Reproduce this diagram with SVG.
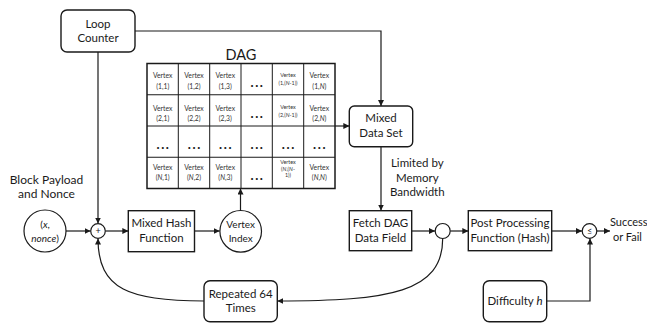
<svg xmlns="http://www.w3.org/2000/svg" width="647" height="323" viewBox="0 0 647 323">
<defs>
<marker id="ah" viewBox="0 0 10 10" refX="10" refY="5" markerWidth="6" markerHeight="6" markerUnits="userSpaceOnUse" orient="auto">
<path d="M0,0 L10,5 L0,10 Z" fill="#1a1a1a"/>
</marker>
<style>
text{font-family:Lato,"Liberation Sans",sans-serif;fill:#1a1a1a;text-anchor:middle}
.box{fill:#fff;stroke:#1a1a1a;stroke-width:1.4}
.c{fill:#fff;stroke:#1a1a1a;stroke-width:1.2}
.ln{fill:none;stroke:#1a1a1a;stroke-width:1.2;marker-end:url(#ah)}
.t{font-size:11.5px}
.s{font-size:10px}
.v{font-size:6.8px;fill:#333}
.vs{font-size:5.4px;fill:#333}
.d{font-size:13px;font-weight:bold;letter-spacing:1.6px}
.grid{fill:none;stroke:#1a1a1a;stroke-width:1}
</style>
</defs>
<rect width="647" height="323" fill="#fff"/>

<g id="connectors">
<path class="ln" d="M135,31 H381 V106"/>
<path class="ln" d="M98,52 V223.5"/>
<path class="ln" d="M66,231 H90.5"/>
<path class="ln" d="M105.5,231 H128.3"/>
<path class="ln" d="M194.5,231 H219.7"/>
<path class="ln" d="M240.5,210.3 V188.5"/>
<path class="ln" d="M335,126 H349.3"/>
<path class="ln" d="M381,146.7 V210.5"/>
<path class="ln" d="M411.7,231 H435"/>
<path class="ln" d="M450.3,231 H468.3"/>
<path class="ln" d="M551.7,231 H582"/>
<path class="ln" d="M596.7,231 H610"/>
<path class="ln" d="M546.7,301 H590 V238.5"/>
<path class="ln" d="M442.7,238.5 C442.7,292 390,301 277.3,301"/>
<path class="ln" d="M204,301 C130,301 98,290 98,238.5"/>
</g>

<g id="loop-counter">
<rect class="box" x="61" y="10" width="74" height="42" rx="6"/>
<text class="t" x="98" y="27.7">Loop</text>
<text class="t" x="98" y="41.7">Counter</text>
</g>

<g id="dag">
<text x="241" y="59.5" style="font-size:14.5px">DAG</text>
<rect x="147" y="63.5" width="188" height="125" fill="#fff"/>
<g class="grid">
<path d="M178.3,63.5 V188.5 M209.7,63.5 V188.5 M241,63.5 V188.5 M272.3,63.5 V188.5 M303.7,63.5 V188.5"/>
<path d="M147,94.75 H335 M147,126 H335 M147,157.25 H335"/>
</g>
<rect x="147" y="63.5" width="188" height="125" fill="none" stroke="#1a1a1a" stroke-width="1.5"/>
<g>
<text class="v" x="162.7" y="78">Vertex</text><text class="v" x="162.7" y="88.5">(1,1)</text>
<text class="v" x="194" y="78">Vertex</text><text class="v" x="194" y="88.5">(1,2)</text>
<text class="v" x="225.3" y="78">Vertex</text><text class="v" x="225.3" y="88.5">(1,3)</text>
<text class="d" x="257.5" y="87">...</text>
<text class="vs" x="288" y="76.7">Vertex</text><text class="vs" x="288" y="85">(1,(<tspan font-style="italic">N</tspan>-1))</text>
<text class="v" x="319.3" y="78">Vertex</text><text class="v" x="319.3" y="88.5">(1,<tspan font-style="italic">N</tspan>)</text>

<text class="v" x="162.7" y="110.5">Vertex</text><text class="v" x="162.7" y="121">(2,1)</text>
<text class="v" x="194" y="110.5">Vertex</text><text class="v" x="194" y="121">(2,2)</text>
<text class="v" x="225.3" y="110.5">Vertex</text><text class="v" x="225.3" y="121">(2,3)</text>
<text class="d" x="257.5" y="118">...</text>
<text class="vs" x="288" y="108.5">Vertex</text><text class="vs" x="288" y="116.8">(2,(<tspan font-style="italic">N</tspan>-1))</text>
<text class="v" x="319.3" y="110.5">Vertex</text><text class="v" x="319.3" y="121">(2,<tspan font-style="italic">N</tspan>)</text>

<text class="d" x="163.5" y="148.5">...</text>
<text class="d" x="194.8" y="148.5">...</text>
<text class="d" x="226.1" y="148.5">...</text>
<text class="d" x="257.5" y="148.5">...</text>
<text class="d" x="288.8" y="148.5">...</text>
<text class="d" x="320.1" y="148.5">...</text>

<text class="v" x="162.7" y="170">Vertex</text><text class="v" x="162.7" y="179.5">(<tspan font-style="italic">N</tspan>,1)</text>
<text class="v" x="194" y="170">Vertex</text><text class="v" x="194" y="179.5">(<tspan font-style="italic">N</tspan>,2)</text>
<text class="v" x="225.3" y="170">Vertex</text><text class="v" x="225.3" y="179.5">(<tspan font-style="italic">N</tspan>,3)</text>
<text class="d" x="257.5" y="180">...</text>
<text class="vs" x="288" y="164">Vertex</text><text class="vs" x="288" y="170.7">(<tspan font-style="italic">N</tspan>,(<tspan font-style="italic">N</tspan>-</text><text class="vs" x="288" y="177.3">1))</text>
<text class="v" x="319.3" y="170">Vertex</text><text class="v" x="319.3" y="179.5">(<tspan font-style="italic">N</tspan>,<tspan font-style="italic">N</tspan>)</text>
</g>
</g>

<g id="block-payload-label">
<text style="font-size:12px" x="46.5" y="184">Block Payload</text>
<text style="font-size:12px" x="46.5" y="198.3">and Nonce</text>
</g>

<g id="input">
<circle class="c" cx="45" cy="231" r="21"/>
<text class="s" x="45" y="227.7">(<tspan font-style="italic">x</tspan>,</text>
<text class="s" x="45" y="241.7"><tspan font-style="italic">nonce</tspan>)</text>
</g>

<g id="plus">
<circle class="c" cx="98" cy="231" r="7.3"/>
<text x="98" y="234.3" style="font-size:9px">+</text>
</g>

<g id="mixed-hash">
<rect class="box" x="128.3" y="210.7" width="66.2" height="41"/>
<text class="t" x="161.4" y="226.7">Mixed Hash</text>
<text class="t" x="161.4" y="241.7">Function</text>
</g>

<g id="vertex-index">
<circle class="c" cx="240.7" cy="231.3" r="20.8"/>
<text class="s" x="240.7" y="228.3">Vertex</text>
<text class="s" x="240.7" y="241.7">Index</text>
</g>

<g id="mixed-data-set">
<rect class="box" x="349.3" y="106" width="63.4" height="40.7" rx="5"/>
<text class="t" x="381" y="121.7">Mixed</text>
<text class="t" x="381" y="136.7">Data Set</text>
</g>

<g id="bandwidth-label">
<text class="t" x="417.3" y="167.3">Limited by</text>
<text class="t" x="417.3" y="181.7">Memory</text>
<text class="t" x="417.3" y="196">Bandwidth</text>
</g>

<g id="fetch-dag">
<rect class="box" x="349.3" y="210.7" width="62.4" height="40"/>
<text class="t" x="380.5" y="226.7">Fetch DAG</text>
<text class="t" x="380.5" y="241.7">Data Field</text>
</g>

<g id="mix-node">
<circle class="c" cx="442.7" cy="231" r="7.5"/>
</g>

<g id="post-processing">
<rect class="box" x="468.3" y="210.7" width="83.4" height="40"/>
<text class="t" x="510" y="226.7">Post Processing</text>
<text class="t" x="510" y="241.7">Function (Hash)</text>
</g>

<g id="compare">
<circle class="c" cx="589.5" cy="231" r="7.3"/>
<text x="589.5" y="234.3" style="font-size:9px">≤</text>
</g>

<g id="result-label">
<text style="font-size:11px;text-anchor:start" x="610" y="225.7">Success</text>
<text style="font-size:11px;text-anchor:start" x="613" y="241">or Fail</text>
</g>

<g id="repeated">
<rect class="box" x="204" y="280.7" width="73.3" height="41" rx="6"/>
<text class="t" x="240.7" y="298.3">Repeated 64</text>
<text class="t" x="240.7" y="311.7">Times</text>
</g>

<g id="difficulty">
<rect class="box" x="483.3" y="280.7" width="63.4" height="41" rx="6"/>
<text class="t" x="515" y="305">Difficulty <tspan font-style="italic">h</tspan></text>
</g>
</svg>
